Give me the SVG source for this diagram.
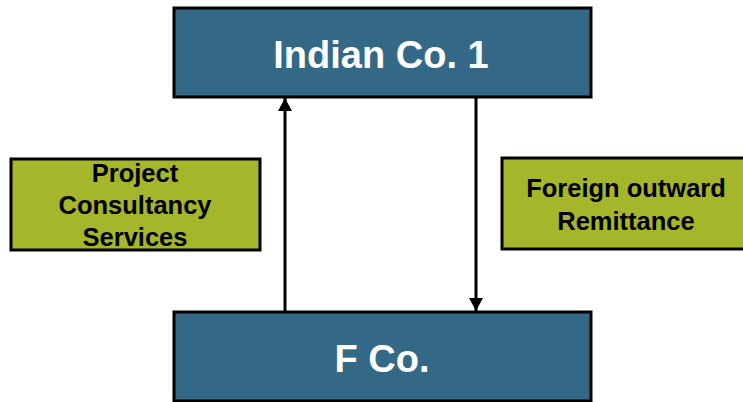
<svg xmlns="http://www.w3.org/2000/svg" width="743" height="402" viewBox="0 0 743 402">
  <style>
    .co { fill: #336886; stroke: #000; stroke-width: 3; }
    .note { fill: #a5b62a; stroke: #000; stroke-width: 3; }
    .coText { font-family: "Liberation Sans", Arial, sans-serif; font-weight: bold; font-size: 38px; fill: #fff; text-anchor: middle; }
    .noteText { font-family: "Liberation Sans", Arial, sans-serif; font-weight: bold; font-size: 25.5px; fill: #000; text-anchor: middle; }
    .link { stroke: #000; stroke-width: 3; fill: none; }
  </style>
  <defs>
    <!-- filled arrowhead, sized in user units: 13 long, 14 wide -->
    <marker id="head" viewBox="0 0 13 14" refX="13" refY="7" markerWidth="13" markerHeight="14" orient="auto" markerUnits="userSpaceOnUse">
      <path d="M0,0 L13,7 L0,14 z" fill="#000"/>
    </marker>
  </defs>
  <rect width="743" height="402" fill="#fff"/>

  <g id="indian-co-1">
    <rect class="co" x="174" y="8" width="417" height="89"/>
    <text class="coText" x="381" y="68">Indian Co. 1</text>
  </g>

  <g id="f-co">
    <rect class="co" x="174" y="312" width="417" height="89"/>
    <text class="coText" x="382" y="372">F Co.</text>
  </g>

  <g id="project-consultancy">
    <rect class="note" x="11" y="159" width="249" height="91"/>
    <text class="noteText" x="135" y="182">Project</text>
    <text class="noteText" x="135" y="214">Consultancy</text>
    <text class="noteText" x="135" y="246">Services</text>
  </g>

  <g id="foreign-remittance">
    <rect class="note" x="502" y="158" width="250" height="91"/>
    <text class="noteText" x="626" y="197">Foreign outward</text>
    <text class="noteText" x="626" y="230">Remittance</text>
  </g>

  <g id="connectors">
    <line class="link" x1="285" y1="311" x2="285" y2="98" marker-end="url(#head)"/>
    <line class="link" x1="476" y1="98" x2="476" y2="311" marker-end="url(#head)"/>
  </g>
</svg>
